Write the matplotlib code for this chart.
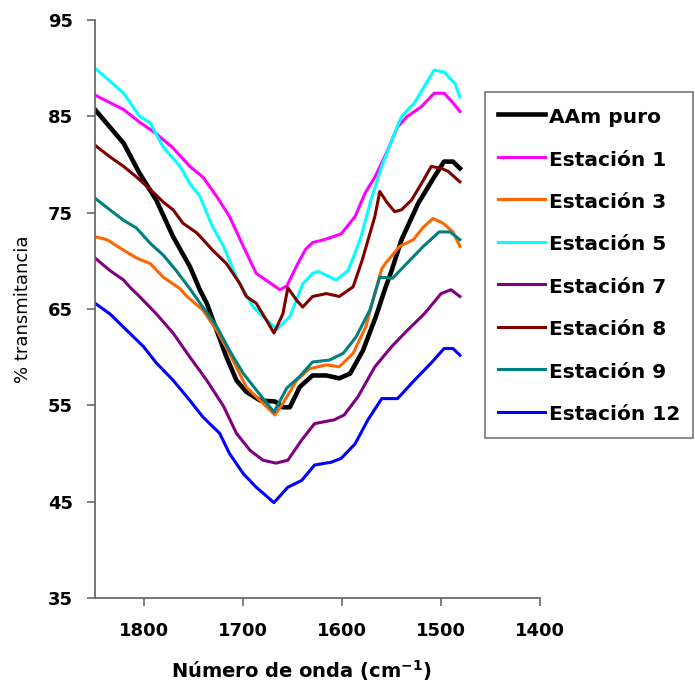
import matplotlib
matplotlib.use("Agg")
import matplotlib.pyplot as plt

plt.rcParams['font.family'] = ['DejaVu Sans']
plt.rcParams['mathtext.fontset'] = 'dejavusans'

# FTIR spectra: wavenumber (cm-1) and % transmittance for each sample
aam_x = [1850, 1821, 1805, 1788, 1771, 1754, 1744, 1737, 1727, 1717, 1707, 1697, 1683, 1668,
         1660, 1653, 1643, 1630, 1616, 1603, 1592, 1579, 1566, 1557, 1550, 1540, 1523, 1507,
         1497, 1488, 1481]
aam_y = [85.7, 82.2, 79.1, 76.3, 72.5, 69.4, 67.0, 65.6, 62.8, 60.0, 57.6, 56.4, 55.5, 55.4,
         54.8, 54.8, 56.9, 58.1, 58.1, 57.8, 58.3, 60.7, 64.2, 67.0, 69.0, 72.2, 76.0, 78.7,
         80.3, 80.3, 79.6]

est1_x = [1850, 1821, 1805, 1788, 1771, 1754, 1741, 1727, 1714, 1700, 1687, 1670, 1663, 1656,
          1645, 1637, 1630, 1618, 1601, 1587, 1577, 1567, 1557, 1544, 1534, 1520, 1507, 1497,
          1488, 1481]
est1_y = [87.2, 85.7, 84.4, 83.2, 81.7, 79.8, 78.7, 76.7, 74.6, 71.5, 68.7, 67.5, 67.0, 67.4,
          69.7, 71.2, 71.9, 72.2, 72.8, 74.6, 77.0, 78.7, 80.8, 83.9, 85.0, 86.0, 87.4, 87.4,
          86.4, 85.5]

est3_x = [1850, 1838, 1821, 1808, 1794, 1781, 1764, 1757, 1741, 1727, 1714, 1697, 1683, 1670,
          1668, 1660, 1646, 1633, 1616, 1603, 1589, 1576, 1566, 1560, 1555, 1542, 1528, 1518,
          1508, 1498, 1488, 1481]
est3_y = [72.5, 72.2, 71.1, 70.3, 69.7, 68.3, 67.1, 66.3, 64.9, 62.8, 60.4, 56.9, 55.5, 54.2,
          54.0, 55.2, 57.6, 58.8, 59.2, 59.0, 60.4, 63.2, 67.0, 69.2, 69.9, 71.5, 72.2, 73.5,
          74.4, 73.9, 73.0, 71.5]

est5_x = [1850, 1832, 1821, 1805, 1794, 1781, 1764, 1754, 1744, 1731, 1720, 1707, 1690, 1680,
          1666, 1653, 1640, 1630, 1624, 1606, 1594, 1586, 1581, 1571, 1560, 1550, 1540, 1527,
          1517, 1507, 1497, 1486, 1481]
est5_y = [90.0, 88.4, 87.4, 85.0, 84.3, 81.8, 79.8, 78.0, 76.7, 73.5, 71.5, 68.3, 65.2, 64.2,
          62.9, 64.2, 67.6, 68.7, 68.9, 68.0, 69.0, 71.1, 72.5, 76.3, 79.8, 82.5, 85.0, 86.4,
          88.1, 89.8, 89.6, 88.4, 87.0]

est7_x = [1850, 1835, 1821, 1815, 1805, 1788, 1771, 1754, 1737, 1720, 1707, 1693, 1680, 1667,
          1655, 1641, 1628, 1608, 1598, 1584, 1567, 1550, 1534, 1517, 1500, 1490, 1481]
est7_y = [70.3, 69.0, 68.0, 67.3, 66.3, 64.5, 62.5, 60.0, 57.6, 54.9, 52.1, 50.3, 49.3, 49.0,
          49.3, 51.4, 53.1, 53.5, 54.0, 55.9, 59.0, 61.1, 62.8, 64.5, 66.6, 67.0, 66.3]

est8_x = [1850, 1835, 1821, 1808, 1794, 1781, 1771, 1761, 1747, 1731, 1717, 1704, 1697, 1687,
          1677, 1669, 1660, 1655, 1646, 1640, 1630, 1616, 1603, 1589, 1580, 1567, 1562, 1555,
          1547, 1540, 1530, 1520, 1510, 1500, 1493, 1481]
est8_y = [82.0, 80.8, 79.8, 78.7, 77.4, 76.1, 75.3, 73.9, 72.9, 71.1, 69.7, 67.7, 66.3, 65.6,
          63.9, 62.5, 64.5, 67.2, 65.9, 65.2, 66.3, 66.6, 66.3, 67.3, 70.0, 74.6, 77.2, 76.1,
          75.1, 75.3, 76.3, 78.0, 79.8, 79.6, 79.3, 78.2]

est9_x = [1850, 1835, 1821, 1808, 1794, 1781, 1768, 1754, 1741, 1727, 1714, 1700, 1687, 1669,
          1656, 1643, 1630, 1613, 1599, 1586, 1572, 1562, 1549, 1535, 1518, 1502, 1491, 1481]
est9_y = [76.5, 75.3, 74.2, 73.4, 71.8, 70.6, 69.0, 67.1, 65.2, 63.2, 60.7, 58.3, 56.6, 54.3,
          56.8, 58.0, 59.5, 59.7, 60.4, 62.1, 64.9, 68.3, 68.2, 69.7, 71.5, 73.0, 73.0, 72.2]

est12_x = [1850, 1835, 1815, 1801, 1788, 1771, 1754, 1741, 1724, 1714, 1700, 1687, 1669, 1655,
           1641, 1628, 1611, 1601, 1587, 1574, 1560, 1544, 1527, 1510, 1497, 1488, 1481]
est12_y = [65.6, 64.5, 62.5, 61.1, 59.4, 57.6, 55.5, 53.8, 52.1, 50.0, 47.9, 46.5, 44.9, 46.5,
           47.2, 48.8, 49.1, 49.5, 51.0, 53.5, 55.7, 55.7, 57.6, 59.4, 60.9, 60.9, 60.2]

series = [
    ("AAm puro", aam_x, aam_y, "#000000", 3.3),
    ("Estación 1", est1_x, est1_y, "#FF00FF", 2.2),
    ("Estación 3", est3_x, est3_y, "#FF6600", 2.2),
    ("Estación 5", est5_x, est5_y, "#00FFFF", 2.2),
    ("Estación 7", est7_x, est7_y, "#800080", 2.2),
    ("Estación 8", est8_x, est8_y, "#800000", 2.2),
    ("Estación 9", est9_x, est9_y, "#008080", 2.2),
    ("Estación 12", est12_x, est12_y, "#0000FF", 2.2),
]

x_ticks = [1800, 1700, 1600, 1500, 1400]
y_ticks = [35, 45, 55, 65, 75, 85, 95]

fig = plt.figure(figsize=(6.95, 6.84), dpi=100)
ax = fig.add_axes([95 / 695, 1 - 598 / 684, 445 / 695, 578 / 684])

handles = []
for label, xs, ys, color, lw in series:
    h, = ax.plot(xs, ys, color=color, lw=lw, label=label, solid_joinstyle='round')
    handles.append(h)

ax.set_xlim(1850, 1400)
ax.set_ylim(35, 95)
ax.set_xticks(x_ticks)
ax.set_yticks(y_ticks)

for side in ("top", "right"):
    ax.spines[side].set_visible(False)
for side in ("left", "bottom"):
    ax.spines[side].set_color("#6a6a6a")
    ax.spines[side].set_linewidth(1.3)

ax.tick_params(axis="both", direction="out", length=6, width=1.2, color="#6a6a6a",
               labelsize=13, pad=10)
ax.tick_params(axis="x", pad=11.5)
for lbl in ax.get_xticklabels() + ax.get_yticklabels():
    lbl.set_fontweight("bold")

ax.set_ylabel("% transmitancia", fontsize=13)
ax.yaxis.set_label_coords(-0.142, 0.50)

ax.set_xlabel(r"Número de onda (cm$^{\mathbf{-1}}$)", fontsize=14, fontweight="bold")
ax.xaxis.set_label_coords(0.464, -0.138)
ax.xaxis.label.set_va("baseline")

leg = fig.legend(handles=handles, loc="upper left",
                 bbox_to_anchor=(485 / 695, 1 - 92 / 684), borderaxespad=0,
                 prop={"size": 14.5, "weight": "bold"}, frameon=True, fancybox=False,
                 handlelength=2.3, handletextpad=0.2, handleheight=1.3,
                 labelspacing=1.02, borderpad=0.66)
leg.get_frame().set_edgecolor("#555555")
leg.get_frame().set_linewidth(1.2)

fig.savefig("out.png", dpi=100)
